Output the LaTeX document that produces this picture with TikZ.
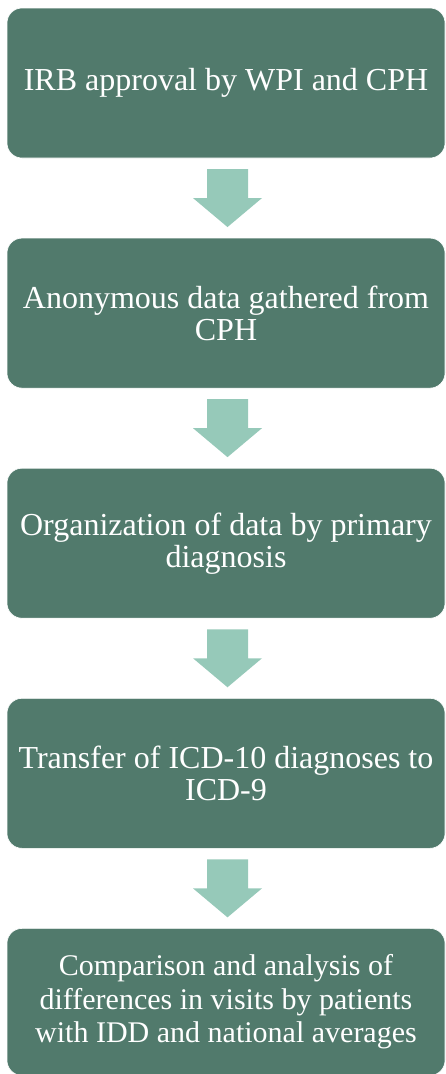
\documentclass[tikz,border=0pt]{standalone}
\usepackage{fontspec}
\setmainfont{Liberation Serif}
\usetikzlibrary{positioning,calc}
\definecolor{boxgreen}{RGB}{81,122,108}
\definecolor{arrowgreen}{RGB}{150,201,185}
\begin{document}
\begin{tikzpicture}[x=1pt,y=1pt,line join=round,
	stepbox/.style={fill=boxgreen,draw=white,line width=0.6pt,rounded corners=15pt,
		minimum width=438pt,minimum height=150pt,inner sep=0pt,align=center,
		text=white,font=\fontsize{32}{32}\selectfont},
	blockarrow/.style={fill=arrowgreen},
	node distance=79.5pt]
	\useasboundingbox (0,0) rectangle (446,-1074);
	\node[stepbox] (irb) at (226,-83) {IRB approval by WPI and CPH};
	\node[stepbox,below=of irb] (data) {Anonymous data gathered from\\CPH};
	\node[stepbox,below=of data] (org) {Organization of data by primary\\diagnosis};
	\node[stepbox,below=of org] (icd) {Transfer of ICD-10 diagnoses to\\ICD-9};
	\node[stepbox,below=of icd,minimum height=147pt,font=\fontsize{30}{33.5}\selectfont] (comp)
		{Comparison and analysis of\\differences in visits by patients\\with IDD and national averages};
	% arrows between the boxes
	\foreach \a/\b in {irb/data,data/org,org/icd,icd/comp}{
		\coordinate (m) at ($(\a.south)!0.5!(\b.north)+(1.5,0)$);
		\fill[blockarrow] ($(m)+(-20.5,29)$) -- ($(m)+(20.5,29)$) -- ($(m)+(20.5,0)$)
			-- ($(m)+(34.5,0)$) -- ($(m)+(0,-29)$) -- ($(m)+(-34.5,0)$)
			-- ($(m)+(-20.5,0)$) -- cycle;
	}
\end{tikzpicture}
\end{document}
